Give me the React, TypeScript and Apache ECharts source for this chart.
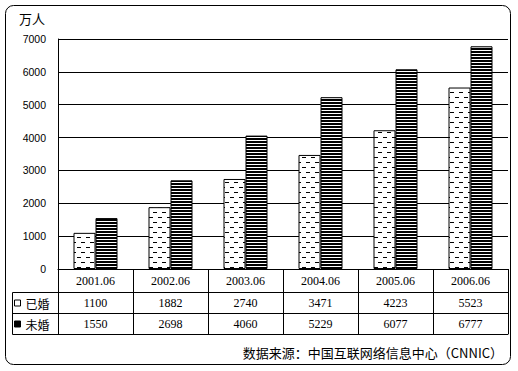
import React, { useEffect, useRef } from "react";
import * as echarts from "echarts";

const categories = ["2001.06", "2002.06", "2003.06", "2004.06", "2005.06", "2006.06"];
const marriedValues = [1100, 1882, 2740, 3471, 4223, 5523];
const singleValues = [1550, 2698, 4060, 5229, 6077, 6777];
const seriesNames = ["已婚", "未婚"];
const unitLabel = "万人";
const sourceText = "数据来源：中国互联网络信息中心（CNNIC）";

const CJK = '"Noto Sans CJK SC", sans-serif';
const SERIF = '"Liberation Serif", "Times New Roman", serif';
const SANS = '"Liberation Sans", Arial, sans-serif';

function makeDashPattern() {
  const c = document.createElement("canvas");
  c.width = 9;
  c.height = 10;
  const ctx = c.getContext("2d")!;
  ctx.fillStyle = "#fff";
  ctx.fillRect(0, 0, 9, 10);
  ctx.fillStyle = "#000";
  ctx.fillRect(0, 2, 4, 1);
  ctx.fillRect(5, 7, 4, 1);
  return c;
}

function makeStripePattern() {
  const c = document.createElement("canvas");
  c.width = 4;
  c.height = 3;
  const ctx = c.getContext("2d")!;
  ctx.fillStyle = "#fff";
  ctx.fillRect(0, 0, 4, 3);
  ctx.fillStyle = "#000";
  ctx.fillRect(0, 0, 4, 2);
  return c;
}

export default function App() {
  const ref = useRef<HTMLDivElement>(null);
  useEffect(() => {
    if (!ref.current) return;
    const chart = echarts.init(ref.current, null, { renderer: "svg" });
    const dash = makeDashPattern();
    const stripe = makeStripePattern();
    const black = "#000";
    const tableLabel = { fontFamily: SERIF, fontSize: 12, color: black, interval: 0 };
    chart.setOption({
      animation: false,
      backgroundColor: "#fff",
      grid: { left: 58, top: 39, width: 450, height: 230, containLabel: false },
      legend: {
        orient: "vertical",
        left: 14,
        top: 296,
        padding: 0,
        itemWidth: 6,
        itemHeight: 6,
        itemGap: 7,
        selectedMode: false,
        textStyle: { fontFamily: CJK, fontSize: 12, lineHeight: 14, color: black },
        data: [
          { name: seriesNames[0], icon: "rect", itemStyle: { color: "#fff", borderColor: black, borderWidth: 1 } },
          { name: seriesNames[1], icon: "rect", itemStyle: { color: black, borderColor: black, borderWidth: 1 } },
        ],
      },
      xAxis: [
        {
          type: "category",
          data: categories,
          position: "bottom",
          axisLine: { show: true, lineStyle: { color: black, width: 1 } },
          axisTick: { show: true, length: 65, interval: 0, alignWithLabel: false, lineStyle: { color: black, width: 1 } },
          axisLabel: { ...tableLabel, margin: 6 },
          splitLine: { show: false },
        },
        {
          type: "category",
          data: marriedValues.map(String),
          position: "bottom",
          offset: 23,
          axisLine: { show: true, lineStyle: { color: black, width: 1 } },
          axisTick: { show: false },
          axisLabel: { ...tableLabel, margin: 5 },
          splitLine: { show: false },
        },
        {
          type: "category",
          data: singleValues.map(String),
          position: "bottom",
          offset: 44,
          axisLine: { show: true, lineStyle: { color: black, width: 1 } },
          axisTick: { show: false },
          axisLabel: { ...tableLabel, margin: 5 },
          splitLine: { show: false },
        },
        {
          type: "category",
          data: categories,
          position: "bottom",
          offset: 65,
          axisLine: { show: true, lineStyle: { color: black, width: 1 } },
          axisTick: { show: false },
          axisLabel: { show: false },
          splitLine: { show: false },
        },
      ],
      yAxis: {
        type: "value",
        min: 0,
        max: 7000,
        interval: 1000,
        name: unitLabel,
        nameLocation: "end",
        nameGap: 21,
        nameTextStyle: {
          fontFamily: CJK,
          fontSize: 13,
          color: black,
          align: "right",
          verticalAlign: "middle",
          padding: [0, 13, 0, 0],
        },
        axisLine: { show: true, lineStyle: { color: black, width: 1 } },
        axisTick: { show: false },
        axisLabel: {
          fontFamily: SANS,
          fontSize: 10.5,
          color: black,
          margin: 12,
          formatter: (v: number) => String(v),
        },
        splitLine: { show: true, lineStyle: { color: black, width: 1, type: "solid" } },
      },
      series: [
        {
          name: seriesNames[0],
          type: "bar",
          xAxisIndex: 0,
          data: marriedValues,
          barWidth: 22,
          barGap: "0%",
          itemStyle: {
            color: { image: dash, repeat: "repeat", imageWidth: 9, imageHeight: 10 },
            borderColor: black,
            borderWidth: 1,
          },
        },
        {
          name: seriesNames[1],
          type: "bar",
          xAxisIndex: 0,
          data: singleValues,
          barWidth: 22,
          barGap: "0%",
          itemStyle: {
            color: { image: stripe, repeat: "repeat", imageWidth: 4, imageHeight: 3 },
            borderColor: black,
            borderWidth: 1,
          },
        },
      ],
      graphic: [
        {
          type: "rect",
          silent: true,
          shape: { x: 5.5, y: 5.5, width: 505, height: 359, r: 8 },
          style: { fill: "none", stroke: black, lineWidth: 1 },
        },
        {
          type: "rect",
          silent: true,
          shape: { x: 12.5, y: 292.5, width: 46, height: 42 },
          style: { fill: "none", stroke: black, lineWidth: 1 },
        },
        {
          type: "line",
          silent: true,
          shape: { x1: 12.5, y1: 313.5, x2: 58.5, y2: 313.5 },
          style: { stroke: black, lineWidth: 1 },
        },
        {
          type: "text",
          right: 15,
          top: 346,
          style: { text: sourceText, font: `13px ${CJK}`, fill: black },
        },
      ],
    });
    return () => chart.dispose();
  }, []);
  return (
    <div
      ref={ref}
      style={{ position: "fixed", left: 0, top: 0, width: 518, height: 371, background: "#fff" }}
    />
  );
}
